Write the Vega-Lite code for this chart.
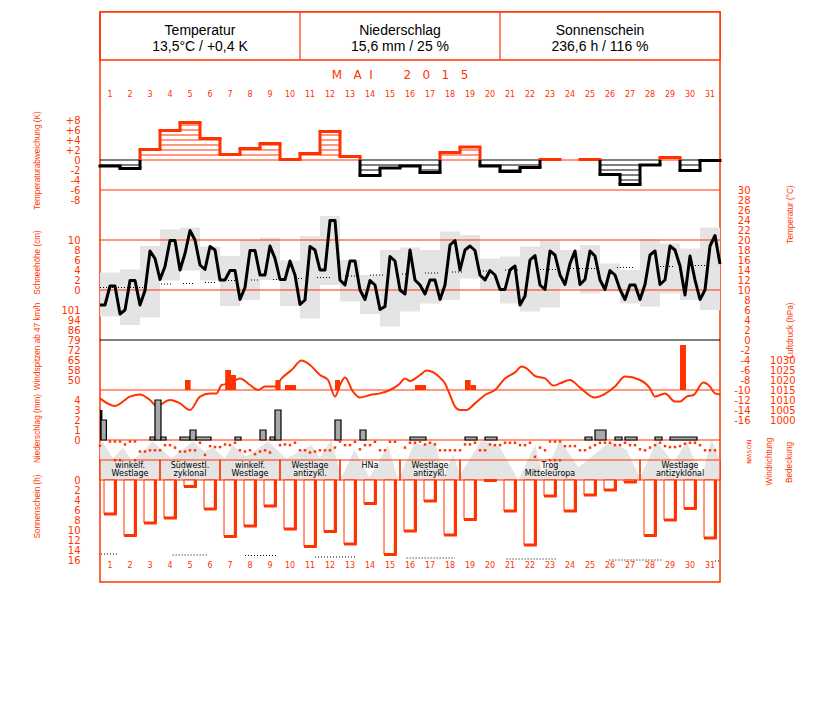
{
"$schema":"https://vega.github.io/schema/vega-lite/v6.json",
"width":620,"height":570,
"autosize":{"type":"none"},
"padding":{"left":100,"top":12,"right":107,"bottom":120},
"background":"white",
"config":{
 "view":{"stroke":"#ff3300","strokeWidth":1.5},
 "axis":{"domain":false,"ticks":false,"grid":false,"labelColor":"#ff3300","labelFont":"DejaVu Sans","labelFontSize":10,"labelOverlap":false,"labelFlush":false,"labelBound":false,"labelPadding":20,"titleColor":"#ff3300","titleFont":"Liberation Sans","titleFontSize":8.2,"titleFontWeight":"normal","titleAngle":270,"titleBaseline":"middle","titleAlign":"center"},
 "text":{"font":"DejaVu Sans"}
},
"datasets":{
 "daily":[
  {"d":1,"v":-1.2,"lv":[-1],"lo":4.7,"hi":13.5,"h":6.8},
  {"d":2,"v":-1.7,"lv":[-1],"lo":3.0,"hi":14.1,"h":11.1},
  {"d":3,"v":2.1,"lv":[1,2],"lo":4.5,"hi":18.8,"h":8.6},
  {"d":4,"v":5.9,"lv":[1,2,3,4,5],"lo":11.9,"hi":22.1,"h":7.6},
  {"d":5,"v":7.5,"lv":[1,2,3,4,5,6,7],"lo":13.9,"hi":22.5,"h":1.3},
  {"d":6,"v":4.3,"lv":[1,2,3,4],"lo":11.9,"hi":18.7,"h":5.8},
  {"d":7,"v":1.1,"lv":[1],"lo":6.8,"hi":16.8,"h":11.3},
  {"d":8,"v":2.3,"lv":[1,2],"lo":8.0,"hi":20.0,"h":9.2},
  {"d":9,"v":3.3,"lv":[1,2,3],"lo":12.0,"hi":20.5,"h":5.2},
  {"d":10,"v":0.1,"lv":[],"lo":6.8,"hi":15.9,"h":9.8},
  {"d":11,"v":1.3,"lv":[1],"lo":4.3,"hi":20.8,"h":13.3},
  {"d":12,"v":5.7,"lv":[1,2,3,4,5],"lo":11.0,"hi":24.8,"h":10.3},
  {"d":13,"v":0.7,"lv":[],"lo":7.7,"hi":16.0,"h":12.8},
  {"d":14,"v":-3.1,"lv":[-1,-2,-3],"lo":5.2,"hi":13.0,"h":4.7},
  {"d":15,"v":-1.6,"lv":[-1],"lo":2.7,"hi":18.0,"h":14.9},
  {"d":16,"v":-1.2,"lv":[-1],"lo":5.7,"hi":18.5,"h":10.2},
  {"d":17,"v":-2.5,"lv":[-1,-2],"lo":7.3,"hi":18.0,"h":4.2},
  {"d":18,"v":1.5,"lv":[1],"lo":8.0,"hi":21.7,"h":11.0},
  {"d":19,"v":2.6,"lv":[1,2],"lo":12.3,"hi":21.0,"h":7.9},
  {"d":20,"v":-1.2,"lv":[-1],"lo":10.0,"hi":16.3,"h":0.1},
  {"d":21,"v":-2.3,"lv":[-1,-2],"lo":7.3,"hi":16.7,"h":6.2},
  {"d":22,"v":-1.5,"lv":[-1],"lo":5.7,"hi":18.7,"h":13.0},
  {"d":23,"v":0.1,"lv":[],"lo":6.5,"hi":19.9,"h":3.2},
  {"d":24,"v":0.0,"lv":[],"lo":10.3,"hi":18.0,"h":6.2},
  {"d":25,"v":0.1,"lv":[],"lo":9.3,"hi":19.0,"h":3.0},
  {"d":26,"v":-2.9,"lv":[-1,-2],"lo":9.7,"hi":15.3,"h":2.0},
  {"d":27,"v":-4.9,"lv":[-1,-2,-3,-4],"lo":7.3,"hi":14.0,"h":0.4},
  {"d":28,"v":-1.0,"lv":[],"lo":6.7,"hi":20.1,"h":11.1},
  {"d":29,"v":0.5,"lv":[],"lo":9.3,"hi":19.3,"h":8.0},
  {"d":30,"v":-2.1,"lv":[-1,-2],"lo":8.0,"hi":18.3,"h":5.7},
  {"d":31,"v":-0.1,"lv":[],"lo":6.0,"hi":22.5,"h":11.6}
 ],
 "temp":[
  {"t":1,"T":7.0},{"t":1.25,"T":7.0},{"t":1.5,"T":10.8},{"t":1.75,"T":10.8},
  {"t":2,"T":5.2},{"t":2.25,"T":6.0},{"t":2.5,"T":11.9},{"t":2.75,"T":11.9},
  {"t":3,"T":7.0},{"t":3.25,"T":9.9},{"t":3.5,"T":17.8},{"t":3.75,"T":16.3},
  {"t":4,"T":12.1},{"t":4.25,"T":14.7},{"t":4.5,"T":19.9},{"t":4.75,"T":19.9},
  {"t":5,"T":14.0},{"t":5.25,"T":17.3},{"t":5.5,"T":21.9},{"t":5.75,"T":20.0},
  {"t":6,"T":15.0},{"t":6.25,"T":14.1},{"t":6.5,"T":18.7},{"t":6.75,"T":18.0},
  {"t":7,"T":12.0},{"t":7.25,"T":12.0},{"t":7.5,"T":13.9},{"t":7.75,"T":13.9},
  {"t":8,"T":8.1},{"t":8.25,"T":10.5},{"t":8.5,"T":17.9},{"t":8.75,"T":17.9},
  {"t":9,"T":13.0},{"t":9.25,"T":13.0},{"t":9.5,"T":18.8},{"t":9.75,"T":16.3},
  {"t":10,"T":12.1},{"t":10.25,"T":12.1},{"t":10.5,"T":15.8},{"t":10.75,"T":13.0},
  {"t":11,"T":7.1},{"t":11.25,"T":8.0},{"t":11.5,"T":18.7},{"t":11.75,"T":18.0},
  {"t":12,"T":14.0},{"t":12.25,"T":14.0},{"t":12.5,"T":23.9},{"t":12.75,"T":23.9},
  {"t":13,"T":12.0},{"t":13.25,"T":11.0},{"t":13.5,"T":15.8},{"t":13.75,"T":15.8},
  {"t":14,"T":10.0},{"t":14.25,"T":8.1},{"t":14.5,"T":11.9},{"t":14.75,"T":11.0},
  {"t":15,"T":6.1},{"t":15.25,"T":6.7},{"t":15.5,"T":16.7},{"t":15.75,"T":15.8},
  {"t":16,"T":10.0},{"t":16.25,"T":9.2},{"t":16.5,"T":18.0},{"t":16.75,"T":12.0},
  {"t":17,"T":11.0},{"t":17.25,"T":9.2},{"t":17.5,"T":12.0},{"t":17.75,"T":12.0},
  {"t":18,"T":8.1},{"t":18.25,"T":11.0},{"t":18.5,"T":19.0},{"t":18.75,"T":19.9},
  {"t":19,"T":14.0},{"t":19.25,"T":18.0},{"t":19.5,"T":18.8},{"t":19.75,"T":17.9},
  {"t":20,"T":13.0},{"t":20.25,"T":12.0},{"t":20.5,"T":13.9},{"t":20.75,"T":13.0},
  {"t":21,"T":10.1},{"t":21.25,"T":10.1},{"t":21.5,"T":14.0},{"t":21.75,"T":14.8},
  {"t":22,"T":7.0},{"t":22.25,"T":8.8},{"t":22.5,"T":16.0},{"t":22.75,"T":16.9},
  {"t":23,"T":11.0},{"t":23.25,"T":10.1},{"t":23.5,"T":17.8},{"t":23.75,"T":17.0},
  {"t":24,"T":13.0},{"t":24.25,"T":11.1},{"t":24.5,"T":15.3},{"t":24.75,"T":17.8},
  {"t":25,"T":11.1},{"t":25.25,"T":12.1},{"t":25.5,"T":17.8},{"t":25.75,"T":16.8},
  {"t":26,"T":12.0},{"t":26.25,"T":10.1},{"t":26.5,"T":13.9},{"t":26.75,"T":13.0},
  {"t":27,"T":10.1},{"t":27.25,"T":8.1},{"t":27.5,"T":11.0},{"t":27.75,"T":11.0},
  {"t":28,"T":8.1},{"t":28.25,"T":11.1},{"t":28.5,"T":17.0},{"t":28.75,"T":17.8},
  {"t":29,"T":11.1},{"t":29.25,"T":12.0},{"t":29.5,"T":18.8},{"t":29.75,"T":18.0},
  {"t":30,"T":14.8},{"t":30.25,"T":9.0},{"t":30.5,"T":16.8},{"t":30.75,"T":12.0},
  {"t":31,"T":8.1},{"t":31.25,"T":10.0},{"t":31.5,"T":18.8},{"t":31.75,"T":20.9},
  {"t":32,"T":15.2}
 ],
 "pres":[
  {"t":1.0,"p":1010.8},{"t":1.75,"p":1007},{"t":2.5,"p":1011.7},{"t":3.0,"p":1012.8},{"t":3.5,"p":1010},{"t":3.83,"p":1007},{"t":4.5,"p":1010},{"t":5.0,"p":1008.3},{"t":5.5,"p":1005},{"t":6.0,"p":1011.7},{"t":6.5,"p":1013.3},{"t":6.83,"p":1013.3},{"t":7.08,"p":1017.5},{"t":7.5,"p":1018.3},{"t":8.0,"p":1020.8},{"t":8.5,"p":1017.5},{"t":8.9,"p":1015},{"t":9.25,"p":1016.7},{"t":9.75,"p":1016.7},{"t":10.08,"p":1020.8},{"t":10.58,"p":1025},{"t":11.08,"p":1029.7},{"t":11.5,"p":1027.5},{"t":12.0,"p":1022.5},{"t":12.4,"p":1020},{"t":12.75,"p":1011.7},{"t":13.0,"p":1017.5},{"t":13.25,"p":1021.3},{"t":13.65,"p":1014.2},{"t":14.0,"p":1011.2},{"t":14.5,"p":1012.5},{"t":15.0,"p":1013.3},{"t":15.5,"p":1015},{"t":16.0,"p":1018.3},{"t":16.25,"p":1020.8},{"t":16.5,"p":1019.5},{"t":17.0,"p":1022.5},{"t":17.33,"p":1024.7},{"t":18.0,"p":1021.2},{"t":18.25,"p":1018.3},{"t":18.5,"p":1012.5},{"t":18.75,"p":1006.7},{"t":19.0,"p":1005},{"t":19.33,"p":1005},{"t":19.75,"p":1008.3},{"t":20.25,"p":1012.5},{"t":20.75,"p":1015},{"t":21.25,"p":1020.8},{"t":21.75,"p":1023.8},{"t":22.08,"p":1026.7},{"t":22.33,"p":1025.8},{"t":22.75,"p":1022},{"t":23.25,"p":1020.8},{"t":23.67,"p":1017.2},{"t":24.0,"p":1018.3},{"t":24.5,"p":1020},{"t":25.0,"p":1016.2},{"t":25.75,"p":1011.2},{"t":26.15,"p":1012.5},{"t":26.75,"p":1016.7},{"t":27.25,"p":1021.7},{"t":28.0,"p":1020},{"t":28.5,"p":1015.8},{"t":28.75,"p":1011.7},{"t":29.25,"p":1013.3},{"t":29.75,"p":1009.2},{"t":30.0,"p":1009.2},{"t":30.33,"p":1011.7},{"t":30.67,"p":1012.5},{"t":31.17,"p":1018.7},{"t":31.5,"p":1016.7},{"t":31.75,"p":1013.3},{"t":32.0,"p":1012.8}
 ],
 "wind":[
  {"t0":5.25,"t1":5.53,"w":50.4},{"t0":7.26,"t1":7.55,"w":57.6},{"t0":7.55,"t1":7.8,"w":54.0},{"t0":9.77,"t1":10.03,"w":50.4},{"t0":10.25,"t1":10.8,"w":46.8},{"t0":12.75,"t1":13.0,"w":50.4},{"t0":16.75,"t1":17.3,"w":46.8},{"t0":19.25,"t1":19.53,"w":50.4},{"t0":19.53,"t1":19.8,"w":46.8},{"t0":30.0,"t1":30.3,"w":75.6}
 ],
 "prec":[
  {"t0":1.0,"t1":1.12,"mm":3.0,"k":"b"},{"t0":1.05,"t1":1.32,"mm":2.0,"k":"h"},{"t0":3.5,"t1":3.75,"mm":0.3,"k":"h"},{"t0":3.75,"t1":4.05,"mm":4.0,"k":"h"},{"t0":4.05,"t1":4.3,"mm":0.3,"k":"h"},{"t0":5.0,"t1":5.5,"mm":0.3,"k":"h"},{"t0":5.5,"t1":5.8,"mm":1.0,"k":"h"},{"t0":5.8,"t1":6.55,"mm":0.3,"k":"h"},{"t0":7.75,"t1":8.05,"mm":0.3,"k":"h"},{"t0":9.0,"t1":9.3,"mm":1.0,"k":"h"},{"t0":9.5,"t1":9.75,"mm":0.3,"k":"h"},{"t0":9.75,"t1":10.05,"mm":3.0,"k":"h"},{"t0":12.75,"t1":13.05,"mm":2.0,"k":"h"},{"t0":14.0,"t1":14.3,"mm":1.0,"k":"h"},{"t0":16.5,"t1":17.3,"mm":0.3,"k":"h"},{"t0":19.25,"t1":19.85,"mm":0.3,"k":"h"},{"t0":20.25,"t1":20.85,"mm":0.3,"k":"h"},{"t0":25.25,"t1":25.6,"mm":0.3,"k":"h"},{"t0":25.75,"t1":26.3,"mm":1.0,"k":"h"},{"t0":26.75,"t1":27.1,"mm":0.3,"k":"h"},{"t0":27.25,"t1":27.85,"mm":0.3,"k":"h"},{"t0":28.75,"t1":29.1,"mm":0.3,"k":"h"},{"t0":29.5,"t1":30.85,"mm":0.3,"k":"h"}
 ],
 "wdir":[
  {"t":1.0,"dir":77},{"t":1.5,"dir":0},{"t":1.75,"dir":0},{"t":1.75,"dir":345},{"t":2.0,"dir":0},{"t":2.0,"dir":345},{"t":2.25,"dir":54},{"t":2.5,"dir":0},{"t":2.75,"dir":0},{"t":2.75,"dir":345},{"t":3.0,"dir":185},{"t":3.25,"dir":185},{"t":3.5,"dir":162},{"t":3.75,"dir":162},{"t":4.0,"dir":162},{"t":4.25,"dir":67},{"t":4.5,"dir":67},{"t":4.75,"dir":113},{"t":5.0,"dir":185},{"t":5.25,"dir":185},{"t":5.5,"dir":162},{"t":5.75,"dir":162},{"t":6.0,"dir":23},{"t":6.25,"dir":247},{"t":6.5,"dir":85},{"t":6.75,"dir":103},{"t":7.0,"dir":103},{"t":7.25,"dir":54},{"t":7.5,"dir":67},{"t":7.75,"dir":23},{"t":8.0,"dir":162},{"t":8.25,"dir":185},{"t":8.5,"dir":162},{"t":8.75,"dir":234},{"t":9.0,"dir":185},{"t":9.25,"dir":162},{"t":9.5,"dir":203},{"t":10.0,"dir":67},{"t":10.25,"dir":54},{"t":10.5,"dir":67},{"t":10.75,"dir":23},{"t":11.0,"dir":162},{"t":11.25,"dir":162},{"t":11.5,"dir":203},{"t":11.75,"dir":185},{"t":12.0,"dir":162},{"t":12.25,"dir":162},{"t":12.5,"dir":162},{"t":12.75,"dir":113},{"t":13.0,"dir":0},{"t":13.25,"dir":67},{"t":13.5,"dir":67},{"t":13.75,"dir":5},{"t":14.0,"dir":144},{"t":14.25,"dir":67},{"t":14.5,"dir":67},{"t":14.75,"dir":5},{"t":15.0,"dir":162},{"t":15.25,"dir":162},{"t":15.5,"dir":5},{"t":15.75,"dir":5},{"t":16.25,"dir":113},{"t":16.5,"dir":23},{"t":16.75,"dir":23},{"t":17.0,"dir":0},{"t":17.25,"dir":54},{"t":17.5,"dir":23},{"t":17.75,"dir":54},{"t":18.0,"dir":162},{"t":18.25,"dir":162},{"t":18.5,"dir":162},{"t":18.75,"dir":162},{"t":19.0,"dir":162},{"t":19.25,"dir":54},{"t":19.5,"dir":54},{"t":19.75,"dir":23},{"t":20.0,"dir":162},{"t":20.25,"dir":162},{"t":20.5,"dir":54},{"t":20.75,"dir":67},{"t":21.0,"dir":67},{"t":21.25,"dir":23},{"t":21.5,"dir":23},{"t":21.75,"dir":23},{"t":22.0,"dir":67},{"t":22.25,"dir":67},{"t":22.5,"dir":23},{"t":22.75,"dir":283},{"t":23.0,"dir":113},{"t":23.25,"dir":162},{"t":23.5,"dir":0},{"t":23.5,"dir":345},{"t":23.75,"dir":0},{"t":23.75,"dir":345},{"t":24.0,"dir":0},{"t":24.0,"dir":345},{"t":24.25,"dir":85},{"t":24.5,"dir":85},{"t":24.75,"dir":85},{"t":25.0,"dir":162},{"t":25.25,"dir":162},{"t":25.5,"dir":113},{"t":25.75,"dir":67},{"t":26.0,"dir":23},{"t":26.25,"dir":23},{"t":26.5,"dir":23},{"t":26.75,"dir":67},{"t":27.0,"dir":67},{"t":27.25,"dir":23},{"t":27.5,"dir":67},{"t":27.75,"dir":67},{"t":28.0,"dir":144},{"t":28.25,"dir":162},{"t":28.5,"dir":113},{"t":28.75,"dir":67},{"t":29.0,"dir":23},{"t":29.25,"dir":85},{"t":29.5,"dir":103},{"t":29.75,"dir":103},{"t":30.0,"dir":85},{"t":30.25,"dir":41},{"t":30.5,"dir":23},{"t":30.75,"dir":23},{"t":31.0,"dir":67},{"t":31.25,"dir":162},{"t":31.5,"dir":162},{"t":31.75,"dir":162}
 ],
 "cloud":[
  {"t":1.0,"c":7.5},{"t":1.15,"c":7.5},{"t":1.65,"c":4.3},{"t":2.15,"c":6.5},{"t":2.6,"c":3.7},{"t":3.65,"c":7.7},{"t":4.57,"c":4.3},{"t":5.65,"c":7.7},{"t":6.23,"c":5.7},{"t":6.65,"c":6.5},{"t":7.23,"c":4.3},{"t":7.65,"c":7.0},{"t":8.32,"c":4.7},{"t":9.4,"c":7.7},{"t":10.32,"c":4.3},{"t":11.57,"c":7.0},{"t":11.98,"c":4.5},{"t":12.57,"c":8.0},{"t":13.07,"c":0.5},{"t":13.73,"c":6.0},{"t":14.48,"c":0.5},{"t":15.4,"c":7.0},{"t":15.9,"c":0},{"t":16.73,"c":7.5},{"t":17.0,"c":7.0},{"t":17.75,"c":7.5},{"t":18.17,"c":1.0},{"t":18.67,"c":5.0},{"t":19.0,"c":1.0},{"t":20.08,"c":8.0},{"t":21.0,"c":6.5},{"t":21.92,"c":0},{"t":22.75,"c":7.0},{"t":23.17,"c":0.5},{"t":24.0,"c":8.0},{"t":24.92,"c":2.5},{"t":26.5,"c":7.7},{"t":27.33,"c":6.0},{"t":28.0,"c":0.5},{"t":28.83,"c":7.7},{"t":29.67,"c":3.5},{"t":30.33,"c":7.7},{"t":31.08,"c":0.5},{"t":31.58,"c":8.0},{"t":32.0,"c":4.0}
 ],
 "clim":[
  {"t0":1.0,"t1":3.4,"T":10.5},{"t0":4.05,"t1":4.55,"T":11.2},{"t0":5.15,"t1":5.65,"T":11.3},{"t0":6.25,"t1":6.75,"T":11.5},{"t0":7.4,"t1":7.8,"T":11.9},{"t0":8.55,"t1":9.0,"T":12.0},{"t0":9.65,"t1":10.0,"T":12.1},{"t0":10.9,"t1":11.15,"T":12.3},{"t0":11.85,"t1":12.5,"T":12.5},{"t0":13.25,"t1":13.9,"T":12.8},{"t0":14.5,"t1":15.15,"T":13.0},{"t0":16.1,"t1":16.4,"T":13.2},{"t0":17.25,"t1":17.9,"T":13.4},{"t0":18.6,"t1":19.15,"T":13.6},{"t0":20.0,"t1":20.4,"T":13.8},{"t0":21.25,"t1":22.0,"T":14.0},{"t0":23.0,"t1":24.0,"T":14.1},{"t0":24.5,"t1":25.85,"T":14.3},{"t0":26.85,"t1":27.65,"T":14.5},{"t0":28.85,"t1":29.65,"T":14.7},{"t0":30.75,"t1":31.35,"T":14.9}
 ],
 "sunmax":[
  {"t0":1.05,"t1":1.9,"h":14.8},{"t0":4.63,"t1":6.42,"h":15.0},{"t0":8.25,"t1":9.9,"h":15.1},{"t0":11.75,"t1":13.8,"h":15.4},{"t0":16.33,"t1":18.75,"h":15.6},{"t0":21.33,"t1":23.83,"h":15.8},{"t0":26.47,"t1":29.08,"h":16.0},{"t0":31.75,"t1":32.0,"h":16.2}
 ],
 "header":[
  {"start":1,"end":11,"title":"Temperatur","stat":"13,5°C / +0,4 K"},
  {"start":11,"end":21,"title":"Niederschlag","stat":"15,6 mm / 25 %"},
  {"start":21,"end":31,"title":"Sonnenschein","stat":"236,6 h / 116 %"}
 ],
 "wtype":[
  {"start":1,"end":4,"l1":"winkelf.","l2":"Westlage"},
  {"start":4,"end":7,"l1":"Südwestl.","l2":"zyklonal"},
  {"start":7,"end":10,"l1":"winkelf.","l2":"Westlage"},
  {"start":10,"end":13,"l1":"Westlage","l2":"antizykl."},
  {"start":13,"end":16,"l1":"HNa","l2":""},
  {"start":16,"end":19,"l1":"Westlage","l2":"antizykl."},
  {"start":19,"end":28,"l1":"Trog","l2":"Mitteleuropa"},
  {"start":28,"end":32,"l1":"Westlage","l2":"antizyklonal"}
 ]
},
"resolve":{"scale":{"y":"independent"},"axis":{"y":"independent"}},
"layer":[
 {"layer":[
  {"data":{"values":[{}]},
   "mark":{"type":"rect","fill":"white","stroke":"#ff3300","strokeWidth":1.5},
   "encoding":{
    "x":{"datum":1,"type":"quantitative","scale":{"domain":[1,32],"nice":false,"zero":false},"axis":{"orient":"bottom","grid":true,"gridColor":"#dcdcdc","gridWidth":1,"labels":false,"title":null,"values":[1,2,3,4,5,6,7,8,9,10,11,12,13,14,15,16,17,18,19,20,21,22,23,24,25,26,27,28,29,30,31,32]}},
    "x2":{"datum":32},
    "y":{"datum":1.2,"type":"quantitative","scale":{"domain":[1.2,58.2],"range":[0,570],"nice":false,"zero":false},"axis":{"orient":"left","grid":true,"gridColor":"#dcdcdc","gridWidth":1,"labels":false,"title":null,"values":[7,8,9,10,11,12,13,14,15,16,17,18,19,20,21,22,23,24,25,26,27,28,29,30,31,32,33,34,35,36,37,38,39,40,41,42,43,44,45,46,47,48,49,50,51,52,53,54,55,56,57,58]}},
    "y2":{"datum":6}}},
  {"data":{"name":"header"},
   "mark":{"type":"rule","color":"#ff3300","strokeWidth":1.2},
   "encoding":{
    "x":{"field":"start","type":"quantitative","scale":{"domain":[1,32],"nice":false,"zero":false},"axis":null},
    "y":{"datum":1.2,"type":"quantitative","scale":{"domain":[1.2,58.2],"range":[0,570],"nice":false,"zero":false},"axis":null},
    "y2":{"datum":6}}},
  {"data":{"name":"header"},
   "transform":[{"fold":["start","end"],"as":["edge","day"]},{"aggregate":[{"op":"mean","field":"day","as":"mid"}],"groupby":["title","stat"]}],
   "mark":{"type":"text","font":"Liberation Sans","fontSize":14,"color":"#000000"},
   "encoding":{
    "x":{"field":"mid","type":"quantitative","scale":{"domain":[1,32],"nice":false,"zero":false},"axis":null},
    "y":{"datum":3.1,"type":"quantitative","scale":{"domain":[1.2,58.2],"range":[0,570],"nice":false,"zero":false},"axis":null},
    "text":{"field":"title"}}},
  {"data":{"name":"header"},
   "transform":[{"fold":["start","end"],"as":["edge","day"]},{"aggregate":[{"op":"mean","field":"day","as":"mid"}],"groupby":["title","stat"]}],
   "mark":{"type":"text","font":"Liberation Sans","fontSize":14,"color":"#000000"},
   "encoding":{
    "x":{"field":"mid","type":"quantitative","scale":{"domain":[1,32],"nice":false,"zero":false},"axis":null},
    "y":{"datum":4.7,"type":"quantitative","scale":{"domain":[1.2,58.2],"range":[0,570],"nice":false,"zero":false},"axis":null},
    "text":{"field":"stat"}}},
  {"data":{"values":[{}]},
   "mark":{"type":"text","text":"M\u00a0\u00a0\u00a0A\u00a0\u00a0I\u00a0\u00a0\u00a0\u00a0\u00a0\u00a0\u00a0\u00a02\u00a0\u00a0\u00a00\u00a0\u00a0\u00a01\u00a0\u00a0\u00a05","fontSize":12,"color":"#ff3300"},
   "encoding":{
    "x":{"datum":16,"type":"quantitative","scale":{"domain":[1,32],"nice":false,"zero":false},"axis":null},
    "y":{"datum":7.5,"type":"quantitative","scale":{"domain":[1.2,58.2],"range":[0,570],"nice":false,"zero":false},"axis":null}}},
  {"data":{"name":"daily"},
   "mark":{"type":"text","fontSize":8,"color":"#ff3300","xOffset":10},
   "encoding":{
    "x":{"field":"d","type":"quantitative","scale":{"domain":[1,32],"nice":false,"zero":false},"axis":null},
    "y":{"datum":9.5,"type":"quantitative","scale":{"domain":[1.2,58.2],"range":[0,570],"nice":false,"zero":false},"axis":null},
    "text":{"field":"d"}}},
  {"data":{"name":"daily"},
   "mark":{"type":"text","fontSize":8,"color":"#ff3300","xOffset":10},
   "encoding":{
    "x":{"field":"d","type":"quantitative","scale":{"domain":[1,32],"nice":false,"zero":false},"axis":null},
    "y":{"datum":56.55,"type":"quantitative","scale":{"domain":[1.2,58.2],"range":[0,570],"nice":false,"zero":false},"axis":null},
    "text":{"field":"d"}}}
 ]},
 {"data":{"name":"cloud"},
  "mark":{"type":"area","color":"#e4e4e4"},
  "encoding":{
   "x":{"field":"t","type":"quantitative","scale":{"domain":[1,32],"nice":false,"zero":false},"axis":null},
   "y":{"field":"c","type":"quantitative","scale":{"domain":[0,8],"range":[468,428],"nice":false,"zero":false},"axis":{"orient":"right","labels":false,"values":[0,8],"title":"Bedeckung","titleX":69,"titleY":450}},
   "y2":{"datum":0}}},
 {"data":{"name":"daily"},
  "mark":{"type":"rect","color":"#e4e4e4","x2Offset":20},
  "encoding":{
   "x":{"field":"d","type":"quantitative","scale":{"domain":[1,32],"nice":false,"zero":false},"axis":null},
   "x2":{"field":"d"},
   "y":{"field":"lo","type":"quantitative","scale":{"domain":[-16,30],"range":[408,178],"nice":false,"zero":false},"axis":null},
   "y2":{"field":"hi"}}},
 {"layer":[
  {"data":{"values":[{}]},"mark":{"type":"rule","color":"#ff3300","strokeWidth":1.2},
   "encoding":{"y":{"datum":19,"type":"quantitative","scale":{"domain":[1.2,58.2],"range":[0,570],"nice":false,"zero":false},"axis":null}}},
  {"data":{"values":[{}]},"mark":{"type":"rule","color":"#000000","strokeWidth":1},
   "encoding":{"y":{"datum":34,"type":"quantitative","scale":{"domain":[1.2,58.2],"range":[0,570],"nice":false,"zero":false},"axis":null}}},
  {"data":{"values":[{}]},"mark":{"type":"rule","color":"#ff3300","strokeWidth":1.2},
   "encoding":{"y":{"datum":39,"type":"quantitative","scale":{"domain":[1.2,58.2],"range":[0,570],"nice":false,"zero":false},"axis":null}}},
  {"data":{"values":[{}]},"mark":{"type":"rule","color":"#ff3300","strokeWidth":1.2},
   "encoding":{"y":{"datum":44,"type":"quantitative","scale":{"domain":[1.2,58.2],"range":[0,570],"nice":false,"zero":false},"axis":null}}},
  {"data":{"name":"wtype"},
   "mark":{"type":"rect","fillOpacity":0,"stroke":"#ff3300","strokeWidth":1.2},
   "encoding":{
    "x":{"field":"start","type":"quantitative","scale":{"domain":[1,32],"nice":false,"zero":false},"axis":null},
    "x2":{"field":"end"},
    "y":{"datum":46,"type":"quantitative","scale":{"domain":[1.2,58.2],"range":[0,570],"nice":false,"zero":false},"axis":null},
    "y2":{"datum":48}}},
  {"data":{"name":"wtype"},
   "transform":[{"fold":["start","end"],"as":["edge","day"]},{"aggregate":[{"op":"mean","field":"day","as":"mid"}],"groupby":["start","l1","l2"]}],
   "mark":{"type":"text","fontSize":8,"color":"#000000"},
   "encoding":{
    "x":{"field":"mid","type":"quantitative","scale":{"domain":[1,32],"nice":false,"zero":false},"axis":null},
    "y":{"datum":46.6,"type":"quantitative","scale":{"domain":[1.2,58.2],"range":[0,570],"nice":false,"zero":false},"axis":null},
    "text":{"field":"l1"}}},
  {"data":{"name":"wtype"},
   "transform":[{"fold":["start","end"],"as":["edge","day"]},{"aggregate":[{"op":"mean","field":"day","as":"mid"}],"groupby":["start","l1","l2"]}],
   "mark":{"type":"text","fontSize":8,"color":"#000000"},
   "encoding":{
    "x":{"field":"mid","type":"quantitative","scale":{"domain":[1,32],"nice":false,"zero":false},"axis":null},
    "y":{"datum":47.4,"type":"quantitative","scale":{"domain":[1.2,58.2],"range":[0,570],"nice":false,"zero":false},"axis":null},
    "text":{"field":"l2"}}}
 ]},
 {"data":{"values":[{"cm":0},{"cm":10}]},
  "mark":{"type":"rule","color":"#ff3300","strokeWidth":1.2},
  "encoding":{
   "y":{"field":"cm","type":"quantitative","scale":{"domain":[0,10],"range":[278,228],"nice":false,"zero":false},"axis":{"orient":"left","values":[0,2,4,6,8,10],"title":"Schneehöhe (cm)","titleX":-63,"titleY":250}}}},
 {"data":{"name":"daily"},
  "mark":{"type":"rule","strokeWidth":1,"x2Offset":20},
  "encoding":{
   "x":{"field":"d","type":"quantitative","scale":{"domain":[1,32],"nice":false,"zero":false},"axis":null},
   "x2":{"field":"d"},
   "y":{"datum":0,"type":"quantitative","scale":{"domain":[-8,8],"range":[188,108],"nice":false,"zero":false},"axis":{"orient":"left","values":[-8,-6,-4,-2,0,2,4,6,8],"labelExpr":"datum.value > 0 ? '+' + datum.value : '' + datum.value","title":"Temperaturabweichung (K)","titleX":-63,"titleY":148}},
   "color":{"condition":{"test":"datum.v >= 0","value":"#ff3300"},"value":"#000000"}}},
 {"data":{"name":"daily"},
  "transform":[{"flatten":["lv"]}],
  "mark":{"type":"rule","strokeWidth":1,"x2Offset":20},
  "encoding":{
   "x":{"field":"d","type":"quantitative","scale":{"domain":[1,32],"nice":false,"zero":false},"axis":null},
   "x2":{"field":"d"},
   "y":{"field":"lv","type":"quantitative","scale":{"domain":[-8,8],"range":[188,108],"nice":false,"zero":false},"axis":null},
   "color":{"condition":{"test":"datum.lv > 0","value":"#ff3300"},"value":"#000000"}}},
 {"data":{"name":"daily"},
  "transform":[{"filter":"datum.v > 0"}],
  "mark":{"type":"rule","strokeWidth":3,"strokeCap":"square","color":"#ff3300","x2Offset":20},
  "encoding":{
   "x":{"field":"d","type":"quantitative","scale":{"domain":[1,32],"nice":false,"zero":false},"axis":null},
   "x2":{"field":"d"},
   "y":{"field":"v","type":"quantitative","scale":{"domain":[-8,8],"range":[188,108],"nice":false,"zero":false},"axis":null}}},
 {"data":{"name":"daily"},
  "transform":[{"filter":"datum.v < 0"}],
  "mark":{"type":"rule","strokeWidth":3,"strokeCap":"square","color":"#000000","x2Offset":20},
  "encoding":{
   "x":{"field":"d","type":"quantitative","scale":{"domain":[1,32],"nice":false,"zero":false},"axis":null},
   "x2":{"field":"d"},
   "y":{"field":"v","type":"quantitative","scale":{"domain":[-8,8],"range":[188,108],"nice":false,"zero":false},"axis":null}}},
 {"data":{"name":"daily"},
  "transform":[{"window":[{"op":"lag","field":"v","as":"pv"}],"sort":[{"field":"d"}]}],
  "mark":{"type":"rule","strokeWidth":3,"color":"#ff3300"},
  "encoding":{
   "x":{"field":"d","type":"quantitative","scale":{"domain":[1,32],"nice":false,"zero":false},"axis":null},
   "y":{"field":"v","type":"quantitative","scale":{"domain":[0,8],"range":[148,108],"nice":false,"zero":false,"clamp":true},"axis":null},
   "y2":{"field":"pv"}}},
 {"data":{"name":"daily"},
  "transform":[{"window":[{"op":"lag","field":"v","as":"pv"}],"sort":[{"field":"d"}]}],
  "mark":{"type":"rule","strokeWidth":3,"color":"#000000"},
  "encoding":{
   "x":{"field":"d","type":"quantitative","scale":{"domain":[1,32],"nice":false,"zero":false},"axis":null},
   "y":{"field":"v","type":"quantitative","scale":{"domain":[-8,0],"range":[188,148],"nice":false,"zero":false,"clamp":true},"axis":null},
   "y2":{"field":"pv"}}},
 {"data":{"name":"clim"},
  "mark":{"type":"rule","color":"#000000","strokeWidth":1.2,"strokeDash":[1,2]},
  "encoding":{
   "x":{"field":"t0","type":"quantitative","scale":{"domain":[1,32],"nice":false,"zero":false},"axis":null},
   "x2":{"field":"t1"},
   "y":{"field":"T","type":"quantitative","scale":{"domain":[-16,30],"range":[408,178],"nice":false,"zero":false},"axis":null}}},
 {"data":{"name":"temp"},
  "mark":{"type":"line","color":"#000000","strokeWidth":3,"strokeJoin":"round"},
  "encoding":{
   "x":{"field":"t","type":"quantitative","scale":{"domain":[1,32],"nice":false,"zero":false},"axis":null},
   "y":{"field":"T","type":"quantitative","scale":{"domain":[-16,30],"range":[408,178],"nice":false,"zero":false},"axis":{"orient":"right","values":[-16,-14,-12,-10,-8,-6,-4,-2,0,2,4,6,8,10,12,14,16,18,20,22,24,26,28,30],"labelAlign":"right","labelPadding":30,"labelExpr":"'' + datum.value","title":"Temperatur (°C)","titleX":70,"titleY":202}}}},
 {"data":{"name":"wind"},
  "mark":{"type":"rect","color":"#ff3300"},
  "encoding":{
   "x":{"field":"t0","type":"quantitative","scale":{"domain":[1,32],"nice":false,"zero":false},"axis":null},
   "x2":{"field":"t1"},
   "y":{"field":"w","type":"quantitative","scale":{"domain":[43.2,100.8],"range":[378,298],"nice":false,"zero":false},"axis":{"orient":"left","values":[50.4,57.6,64.8,72,79.2,86.4,93.6,100.8],"labelExpr":"'' + round(datum.value)","title":"Windspitzen ab 47 km/h","titleX":-63,"titleY":334}},
   "y2":{"datum":43.2}}},
 {"data":{"name":"pres"},
  "mark":{"type":"line","color":"#ff3300","strokeWidth":2,"interpolate":"monotone"},
  "encoding":{
   "x":{"field":"t","type":"quantitative","scale":{"domain":[1,32],"nice":false,"zero":false},"axis":null},
   "y":{"field":"p","type":"quantitative","scale":{"domain":[1000,1030],"range":[408,348],"nice":false,"zero":false},"axis":{"orient":"right","values":[1000,1005,1010,1015,1020,1025,1030],"labelAlign":"right","labelPadding":75,"labelExpr":"'' + datum.value","title":"Luftdruck (hPa)","titleX":70,"titleY":318}}}},
 {"data":{"name":"prec"},
  "transform":[{"filter":"datum.k == 'b'"}],
  "mark":{"type":"rect","color":"#000000"},
  "encoding":{
   "x":{"field":"t0","type":"quantitative","scale":{"domain":[1,32],"nice":false,"zero":false},"axis":null},
   "x2":{"field":"t1"},
   "y":{"field":"mm","type":"quantitative","scale":{"domain":[0,4],"range":[428,388],"nice":false,"zero":false},"axis":{"orient":"left","values":[0,1,2,3,4],"title":"Niederschlag (mm)","titleX":-63,"titleY":416}},
   "y2":{"datum":0}}},
 {"data":{"name":"prec"},
  "transform":[{"filter":"datum.k == 'h'"}],
  "mark":{"type":"rect","fill":"#a8a8a8","stroke":"#000000","strokeWidth":1.2},
  "encoding":{
   "x":{"field":"t0","type":"quantitative","scale":{"domain":[1,32],"nice":false,"zero":false},"axis":null},
   "x2":{"field":"t1"},
   "y":{"field":"mm","type":"quantitative","scale":{"domain":[0,4],"range":[428,388],"nice":false,"zero":false},"axis":null},
   "y2":{"datum":0}}},
 {"data":{"name":"wdir"},
  "mark":{"type":"square","color":"#ff3300","size":6,"opacity":1},
  "encoding":{
   "x":{"field":"t","type":"quantitative","scale":{"domain":[1,32],"nice":false,"zero":false},"axis":null},
   "y":{"field":"dir","type":"quantitative","scale":{"domain":[0,360],"range":[429.5,449],"nice":false,"zero":false},"axis":{"orient":"right","values":[0,90,180,270,360],"labelExpr":"datum.value == 90 ? 'O' : datum.value == 180 ? 'S' : datum.value == 270 ? 'W' : 'N'","labelAngle":90,"labelAlign":"center","labelBaseline":"middle","labelFontSize":6,"labelPadding":28,"title":"Windrichtung","titleX":49,"titleY":449}}}},
 {"data":{"name":"daily"},
  "mark":{"type":"rect","fill":"white","stroke":"#ff3300","strokeWidth":1,"xOffset":4,"x2Offset":16.5},
  "encoding":{
   "x":{"field":"d","type":"quantitative","scale":{"domain":[1,32],"nice":false,"zero":false},"axis":null},
   "x2":{"field":"d"},
   "y":{"field":"h","type":"quantitative","scale":{"domain":[0,16],"range":[468,548],"nice":false,"zero":false},"axis":{"orient":"left","values":[0,2,4,6,8,10,12,14,16],"title":"Sonnenschein (h)","titleX":-63,"titleY":494}},
   "y2":{"datum":0}}},
 {"data":{"name":"daily"},
  "mark":{"type":"rule","color":"#ff3300","strokeWidth":3,"xOffset":15.3},
  "encoding":{
   "x":{"field":"d","type":"quantitative","scale":{"domain":[1,32],"nice":false,"zero":false},"axis":null},
   "y":{"field":"h","type":"quantitative","scale":{"domain":[0,16],"range":[468,548],"nice":false,"zero":false},"axis":null},
   "y2":{"datum":0}}},
 {"data":{"name":"daily"},
  "mark":{"type":"rule","color":"#ff3300","strokeWidth":3,"xOffset":4,"x2Offset":16.8},
  "encoding":{
   "x":{"field":"d","type":"quantitative","scale":{"domain":[1,32],"nice":false,"zero":false},"axis":null},
   "x2":{"field":"d"},
   "y":{"field":"h","type":"quantitative","scale":{"domain":[0,16],"range":[468,548],"nice":false,"zero":false},"axis":null}}},
 {"data":{"name":"sunmax"},
  "mark":{"type":"rule","color":"#000000","strokeWidth":1.2,"strokeDash":[1,2]},
  "encoding":{
   "x":{"field":"t0","type":"quantitative","scale":{"domain":[1,32],"nice":false,"zero":false},"axis":null},
   "x2":{"field":"t1"},
   "y":{"field":"h","type":"quantitative","scale":{"domain":[0,16],"range":[468,548],"nice":false,"zero":false},"axis":null}}}
]
}
